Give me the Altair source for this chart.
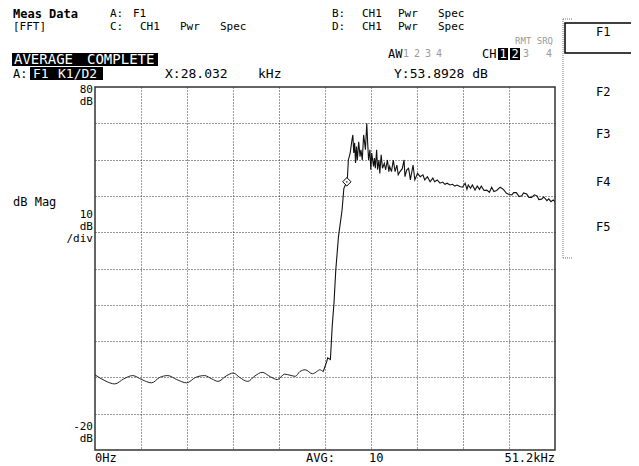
import altair as alt
import pandas as pd

# ---- trace data (kHz, dB) ----
freq_khz = [
    0.0, 1.1, 2.2, 3.2, 4.2, 5.2, 6.3, 7.2, 8.1, 9.1,
    10.2, 11.2, 12.2, 13.0, 13.7, 14.6, 15.4, 16.1, 17.0, 17.8,
    18.6, 19.5, 20.3, 21.1, 21.7, 22.3, 22.8, 23.4, 24.2, 24.8,
    25.0, 25.4, 25.8, 25.9, 26.2, 26.4, 26.6, 26.8, 27.1, 27.5,
    27.7, 28.032, 28.1, 28.2, 28.4, 28.6, 28.7, 28.8, 28.9, 29.0,
    29.1, 29.2, 29.35, 29.5, 29.6, 29.75, 29.9, 30.0, 30.1, 30.25,
    30.35, 30.45, 30.6, 30.7, 30.8, 31.0, 31.1, 31.2, 31.35, 31.45,
    31.6, 31.7, 31.85, 32.0, 32.2, 32.35, 32.55, 32.7, 32.8, 33.0,
    33.2, 33.4, 33.6, 33.75, 33.95, 34.2, 34.4, 34.5, 34.7, 34.9,
    35.0, 35.1, 35.4, 35.6, 35.9, 36.2, 36.5, 36.7, 37.0, 37.3,
    37.6, 37.8, 38.1, 38.4, 38.7, 38.95, 39.2, 39.5, 39.8, 40.05,
    40.3, 40.6, 40.9, 41.2, 41.4, 41.55, 41.8, 42.0, 42.3, 42.55,
    42.8, 43.0, 43.3, 43.6, 43.9, 44.15, 44.4, 44.7, 45.1, 45.45,
    45.8, 46.1, 46.4, 46.6, 46.9, 47.2, 47.5, 47.7, 48.05, 48.3,
    48.6, 48.9, 49.2, 49.4, 49.7, 49.95, 50.3, 50.5, 50.75, 51.0,
    51.2,
]
mag_db = [
    0.7, -0.9, -1.8, -0.4, 0.5, -0.6, -1.5, 0.0, 0.5, -0.6,
    -1.5, 0.0, 0.5, -0.4, -1.1, 0.4, 1.2, 0.0, -1.1, 0.4,
    1.4, 0.2, -0.6, 0.9, 0.6, 0.3, 1.6, 2.1, 1.0, 1.8,
    2.1, 1.6, 4.4, 5.4, 4.9, 14.0, 20.5, 29.6, 38.8, 46.1,
    52.1, 53.9, 55.3, 59.9, 61.8, 65.4, 66.8, 61.8, 64.6, 59.1,
    63.6, 59.9, 64.9, 60.8, 62.7, 59.9, 66.8, 64.9, 62.7, 70.0,
    64.6, 59.9, 62.7, 57.2, 61.8, 58.1, 60.4, 57.6, 62.7, 57.2,
    59.9, 56.2, 61.3, 57.6, 59.0, 57.2, 59.9, 56.7, 58.1, 56.7,
    59.9, 56.7, 58.5, 55.8, 56.7, 57.5, 59.9, 55.3, 57.2, 57.6,
    56.2, 54.4, 58.5, 54.4, 56.2, 55.3, 55.8, 54.4, 55.3, 53.9,
    54.9, 53.9, 54.4, 53.5, 53.8, 53.2, 53.5, 53.0, 53.2, 52.7,
    53.0, 52.6, 52.4, 53.5, 51.8, 53.0, 52.1, 53.0, 51.6, 52.7,
    51.8, 52.7, 51.5, 51.6, 51.0, 52.4, 51.2, 51.5, 52.4, 51.8,
    50.7, 50.4, 50.3, 50.9, 50.9, 49.8, 50.0, 50.8, 50.5, 49.6,
    49.6, 50.3, 50.0, 49.0, 49.1, 49.7, 48.7, 49.2, 48.4, 48.9,
    48.4,
]
marker_khz = [28.032]
marker_db = [53.8928]

x_span = [0.0, 51.2]
y_span = [-20, 80]
x_grid = [5.12 * i for i in range(1, 10)]
y_grid = [-10, 0, 10, 20, 30, 40, 50, 60, 70]

FONT = "DejaVu Sans Mono"
OX, OY = 95, 87  # page position of plot origin

trace = pd.DataFrame({"freq": freq_khz, "db": mag_db})
mk = pd.DataFrame({"freq": marker_khz, "db": marker_db})
one = pd.DataFrame({"k": [0]})

xs = alt.Scale(domain=x_span, nice=False, zero=False)
ys = alt.Scale(domain=y_span, nice=False, zero=False)
xa = alt.Axis(values=x_grid, grid=True, labels=False, ticks=False, domain=False,
              title=None, gridDash=[1, 2], gridColor="#333", gridWidth=1)
ya = alt.Axis(values=y_grid, grid=True, labels=False, ticks=False, domain=False,
              title=None, gridDash=[1, 2], gridColor="#333", gridWidth=1)

# smooth ripple of the noise floor, then the raw noisy spectrum
floor_line = alt.Chart(trace).transform_filter("datum.freq <= 25.4").mark_line(
    color="#222", strokeWidth=1, clip=True, interpolate="monotone").encode(
    x=alt.X("freq:Q", scale=xs, axis=xa),
    y=alt.Y("db:Q", scale=ys, axis=ya),
)
spec_line = alt.Chart(trace).transform_filter("datum.freq >= 25.4").mark_line(
    color="#111", strokeWidth=1.1, clip=True).encode(
    x=alt.X("freq:Q", scale=xs),
    y=alt.Y("db:Q", scale=ys),
)
marker = alt.Chart(mk).mark_point(shape="diamond", size=70, filled=True, fill="white",
                                  stroke="black", strokeWidth=1, opacity=1).encode(
    x=alt.X("freq:Q", scale=xs), y=alt.Y("db:Q", scale=ys))
marker_dot = alt.Chart(mk).mark_point(shape="circle", size=3, filled=True,
                                      color="black").encode(
    x=alt.X("freq:Q", scale=xs), y=alt.Y("db:Q", scale=ys))


def txt(s, px, py, size=12, color="black", align="left", bold=False):
    return alt.Chart(one).mark_text(
        text=s, font=FONT, fontSize=size, fontWeight="bold" if bold else "normal",
        color=color, align=align, baseline="middle",
    ).encode(x=alt.value(px - OX), y=alt.value(py - OY))


def box(x1, y1, x2, y2, fill="black", stroke=None, sw=1):
    kw = dict(fill=fill)
    if stroke:
        kw.update(stroke=stroke, strokeWidth=sw)
    return alt.Chart(one).mark_rect(**kw).encode(
        x=alt.value(x1 - OX), x2=alt.value(x2 - OX),
        y=alt.value(y1 - OY), y2=alt.value(y2 - OY))


def rule(x1, y1, x2, y2, color="#666", dash=None, sw=1):
    kw = dict(color=color, strokeWidth=sw)
    if dash:
        kw.update(strokeDash=dash)
    return alt.Chart(one).mark_rule(**kw).encode(
        x=alt.value(x1 - OX), x2=alt.value(x2 - OX),
        y=alt.value(y1 - OY), y2=alt.value(y2 - OY))


GRAY = "#9a9a9a"
layers = [
    floor_line, spec_line, marker, marker_dot,
    # header
    txt("Meas Data", 13, 14, size=12, bold=True),
    txt("[FFT]", 13, 27, size=11),
    txt("A:", 110, 14, size=11), txt("F1", 133, 14, size=11),
    txt("C:", 110, 27, size=11), txt("CH1", 140, 27, size=11),
    txt("Pwr", 180, 27, size=11), txt("Spec", 220, 27, size=11),
    txt("B:", 332, 14, size=11), txt("CH1", 362, 14, size=11),
    txt("Pwr", 398, 14, size=11), txt("Spec", 438, 14, size=11),
    txt("D:", 332, 27, size=11), txt("CH1", 362, 27, size=11),
    txt("Pwr", 398, 27, size=11), txt("Spec", 438, 27, size=11),
    txt("RMT SRQ", 553, 41, size=9, color=GRAY, align="right"),
    txt("AW", 388, 54, size=12),
    txt("1", 403, 54, size=10, color=GRAY), txt("2", 414, 54, size=10, color=GRAY),
    txt("3", 425, 54, size=10, color=GRAY), txt("4", 436, 54, size=10, color=GRAY),
    txt("CH", 482, 54, size=12),
    box(498, 48, 508, 60), box(510, 48, 520, 60),
    txt("1", 503, 54, size=12, color="white", align="center"),
    txt("2", 515, 54, size=12, color="white", align="center"),
    txt("3", 526, 54, size=10, color=GRAY, align="center"),
    txt("4", 549, 54, size=10, color=GRAY, align="center"),
    box(12, 53, 158, 66),
    txt("AVERAGE", 14, 60, size=14, color="white"),
    txt("COMPLETE", 87, 60, size=14, color="white"),
    txt("A:", 13, 74),
    box(30, 67, 103, 80),
    txt("F1", 33, 74, size=13, color="white"),
    txt("K1/D2", 58, 74, size=13, color="white"),
    txt("X:28.032", 165, 74, size=13),
    txt("kHz", 258, 74, size=13),
    txt("Y:53.8928 dB", 394, 74, size=13),
    # y annotations
    txt("80", 93, 90, size=11, align="right"), txt("dB", 93, 102, size=11, align="right"),
    txt("dB Mag", 13, 202),
    txt("10", 93, 215, size=11, align="right"), txt("dB", 93, 227, size=11, align="right"),
    txt("/div", 93, 239, size=11, align="right"),
    txt("-20", 93, 427, size=11, align="right"), txt("dB", 93, 439, size=11, align="right"),
    # bottom annotations
    txt("0Hz", 95, 458),
    txt("AVG:", 306, 458),
    txt("10", 369, 458),
    txt("51.2kHz", 555, 458, align="right"),
    # softkey panel
    rule(563, 19, 563, 258, color="#777", dash=[1, 1]),
    rule(563, 19, 573, 19, color="#777", dash=[1, 1]),
    rule(563, 258, 573, 258, color="#777", dash=[1, 1]),
    box(565, 23, 650, 53, fill="white", stroke="black", sw=1.5),
    txt("F1", 596, 32),
    txt("F2", 596, 92),
    txt("F3", 596, 134),
    txt("F4", 596, 182),
    txt("F5", 596, 227),
]

chart = alt.layer(*layers).properties(
    width=460, height=363,
    padding={"left": 87, "top": 79, "right": 76, "bottom": 16},
    autosize=alt.AutoSizeParams(type="none"),
    background="white",
).configure_view(stroke="#333", strokeWidth=1.5)

chart.save("out.html", embed_options={"renderer": "svg", "actions": False})
